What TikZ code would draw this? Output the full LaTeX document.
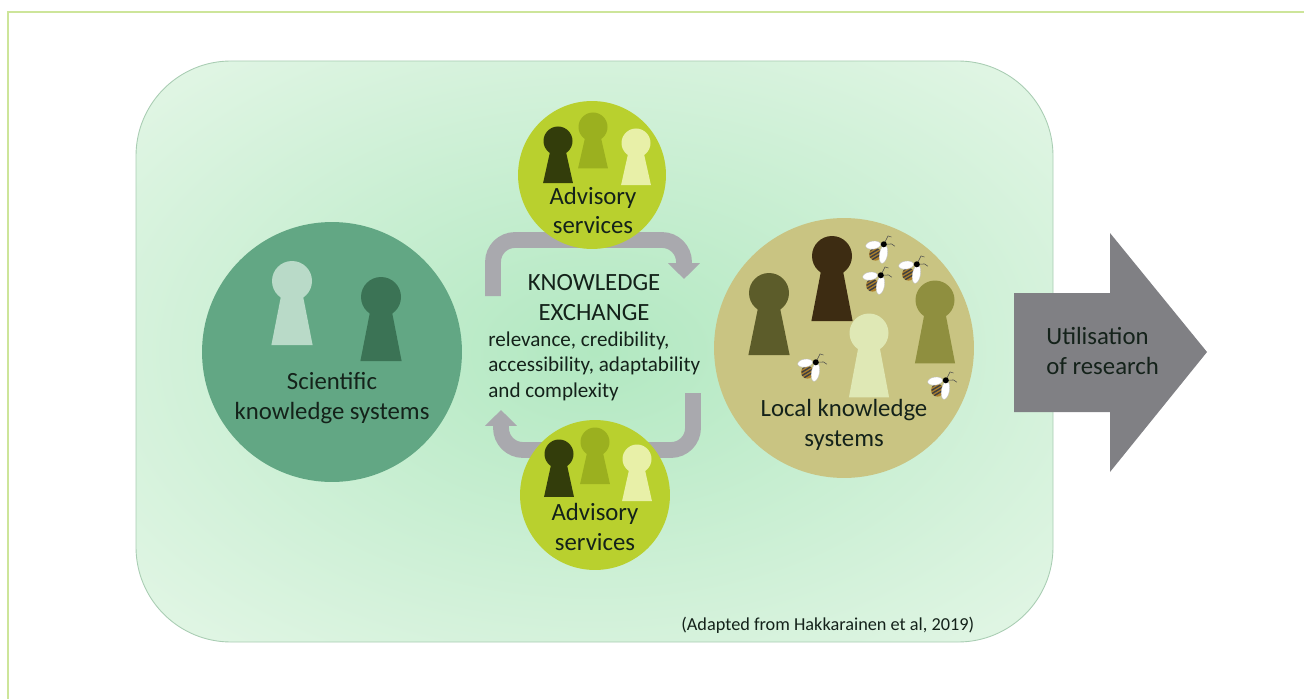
\documentclass[tikz,border=0pt]{standalone}
\usepackage{fontspec}
\setmainfont{Carlito}
\usetikzlibrary{arrows.meta}

\definecolor{framegreen}{HTML}{CDE59A}
\definecolor{panelinner}{HTML}{B2E8C1}
\definecolor{panelouter}{HTML}{E3F6E6}
\definecolor{panelline}{HTML}{A9CDB3}
\definecolor{exchangegrey}{HTML}{A9A9AE}
\definecolor{outputgrey}{HTML}{808084}
\definecolor{scicircle}{HTML}{62A784}
\definecolor{sclight}{HTML}{B9DAC8}
\definecolor{scdark}{HTML}{3B7355}
\definecolor{advcircle}{HTML}{B9D02E}
\definecolor{advdark}{HTML}{333D0B}
\definecolor{advmid}{HTML}{9BB01F}
\definecolor{advlight}{HTML}{E8F0A8}
\definecolor{loccircle}{HTML}{C9C482}
\definecolor{locdark}{HTML}{3D2C12}
\definecolor{locleft}{HTML}{5C5C2A}
\definecolor{locright}{HTML}{8F8F3F}
\definecolor{loclight}{HTML}{DFE8B5}
\definecolor{inktext}{HTML}{14221A}

\tikzset{
  circ/.style={circle, inner sep=0pt, minimum size=#1*.04cm},
  lab/.style={text=inktext, anchor=base, align=center, inner sep=0pt,
    font=\fontsize{14.1}{17}\selectfont},
  small lab/.style={text=inktext, anchor=base west, align=left, inner sep=0pt,
    font=\fontsize{12}{14.4}\selectfont},
  exchange/.style={draw=exchangegrey, line width=9pt, rounded corners=.44cm,
    -{Triangle[width=17.6pt, length=9pt]}},
  pics/keyhole/.style 2 args={code={
    \fill[#1] (0,0) circle [radius=1];
    \fill[#1] (-.55,.75) -- (.55,.75) -- (1.03,#2) -- (-1.03,#2) -- cycle;
  }},
  pics/bee/.style={code={
    \draw[black!70, line width=.3pt] (3.3,-6.7) -- (7,-14) -- (10,-13); % feelers
    \draw[black!70, line width=.3pt] (3.3,-6.7) -- (10,-7) -- (13,-5);
    \begin{scope}
      \clip (-4,2) circle [radius=5.5];
      \fill[brown!70!olive] (-10,-4) rectangle (2,8);
      \foreach \st in {-6,-3,0,3}
        \draw[black!75, line width=.8pt] (-9,\st+5) -- (1,\st-1); % stripes
    \end{scope}
    \fill[white, draw=black!25, line width=.2pt, rotate around={8:(-6,-6)}]
      (-6,-6) ellipse [x radius=6.5, y radius=3.5];
    \fill[white, draw=black!25, line width=.2pt, rotate around={-10:(3,2)}]
      (3,2) ellipse [x radius=3.5, y radius=8];
    \fill[black] (3.3,-6.7) circle [radius=2.6]; % head
  }}
}

\begin{document}
\begin{tikzpicture}[x=.02cm, y=-.02cm]

  \useasboundingbox (0,0) rectangle (1304,699);

  \draw[framegreen, line width=1.2pt] (1304,12) -- (8,12) -- (8,699); % open frame

  \begin{scope}
    \clip[rounded corners=1.9cm] (136,61) rectangle (1053,642);
    \shade[inner color=panelinner, outer color=panelouter]
      (-48,-54) rectangle (1238,758); % bigger than the panel
  \end{scope}
  \draw[panelline, line width=.5pt, rounded corners=1.9cm]
    (136,61) rectangle (1053,642);

  % big arrow on the right
  \fill[outputgrey] (1014,293) -- (1110,293) -- (1110,233) -- (1207,352)
    -- (1110,472) -- (1110,412) -- (1014,412) -- cycle;

  % exchange arrows
  \coordinate (topstart) at (493,296);
  \coordinate (topleft) at (493,240);
  \coordinate (topright) at (684,240);
  \coordinate (toptip) at (684,279);
  \coordinate (lowstart) at (693,393);
  \coordinate (lowright) at (693,450);
  \coordinate (lowleft) at (501,450);
  \coordinate (lowtip) at (501,410);
  \draw[exchange] (topstart) -- (topleft) -- (topright) -- (toptip);
  \draw[exchange] (lowstart) -- (lowright) -- (lowleft) -- (lowtip);

  % the four circles
  \node[circ=130, fill=scicircle] (science) at (332,352) {};
  \node[circ=130, fill=loccircle] (local) at (844,348) {};
  \node[circ=74, fill=advcircle] (advtop) at (592,175) {};
  \node[circ=75, fill=advcircle] (advlow) at (595,495) {};

  % people
  \pic[scale=20] at (292,281) {keyhole={sclight}{3.2}};
  \pic[scale=20] at (381,297) {keyhole={scdark}{3.2}};

  \pic[scale=14.5] at (558,141) {keyhole={advdark}{2.9}};
  \pic[scale=14.5] at (593,127) {keyhole={advmid}{2.85}};
  \pic[scale=14.5] at (636,143) {keyhole={advlight}{2.9}};

  \pic[scale=14.5] at (559,454) {keyhole={advdark}{2.95}};
  \pic[scale=14.5] at (595,442) {keyhole={advmid}{2.9}};
  \pic[scale=14.5] at (637,459) {keyhole={advlight}{2.9}};

  \pic[scale=20] at (769,293) {keyhole={locleft}{3.1}};
  \pic[scale=20] at (832,256) {keyhole={locdark}{3.25}};
  \pic[scale=19.5] at (935,300) {keyhole={locright}{3.25}};
  \pic[scale=19.5] at (869,333) {keyhole={loclight}{3.3}};

  % bees
  \foreach \bx/\by in {880/252, 877/283, 913/272, 812/370, 942/388}
    \pic[scale=1.15] at (\bx,\by) {bee};

  % labels, placed by the baseline of their last line
  \node[lab] (scilab) at (332,419) {Scientific\\knowledge systems};
  \node[lab] (loclab) at (844,446) {Local knowledge\\systems};
  \node[lab] (advtoplab) at (593,234) {Advisory\\services};
  \node[lab] (advlowlab) at (595,550) {Advisory\\services};
  \node[lab] (exchlab) at (594,320) {KNOWLEDGE\\EXCHANGE};
  \node[small lab] (critlab) at (488,397)
    {relevance, credibility,\\accessibility, adaptability\\and complexity};
  \node[lab, anchor=base west, align=left] (uselab) at (1046,374)
    {Utilisation\\of research};
  \node[text=inktext, anchor=base west, inner sep=0pt,
    font=\fontsize{10.4}{12}\selectfont] (srclab) at (681,630)
    {(Adapted from Hakkarainen et al, 2019)};

\end{tikzpicture}
\end{document}
